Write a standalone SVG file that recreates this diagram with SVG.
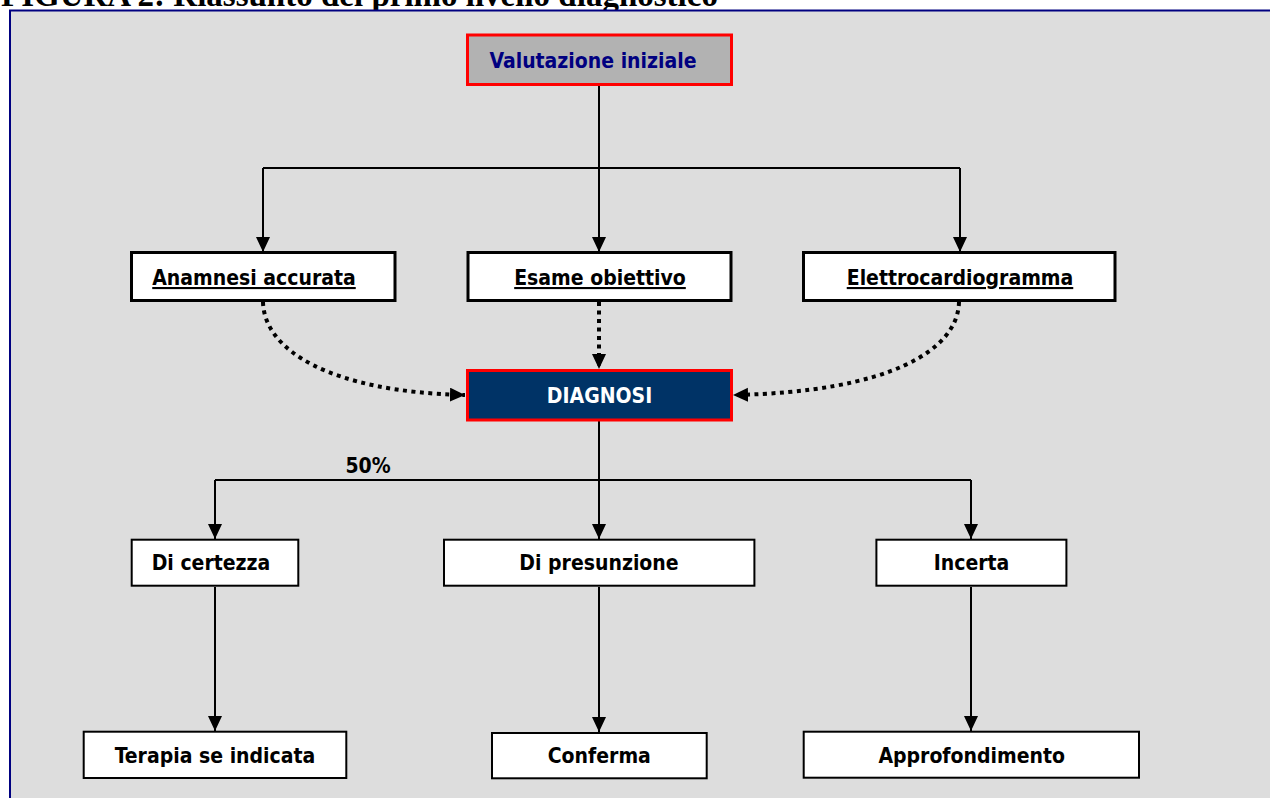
<svg xmlns="http://www.w3.org/2000/svg" width="1270" height="798" viewBox="0 0 1270 798">
<style>
.t{font-family:"DejaVu Sans Condensed","DejaVu Sans",sans-serif;font-stretch:condensed;font-weight:bold;font-size:21px;text-anchor:middle;fill:#000}
.u{text-decoration:underline}
.box3{fill:#fff;stroke:#000;stroke-width:3}
.box2{fill:#fff;stroke:#000;stroke-width:2}
.red{stroke:#ff0000;stroke-width:3}
.ln{fill:none;stroke:#000;stroke-width:2}
.dot{fill:none;stroke:#000;stroke-width:4;stroke-dasharray:4 4.5}
</style>
<defs>
<marker id="ah" markerUnits="userSpaceOnUse" markerWidth="16" markerHeight="16" refX="15" refY="7" orient="auto">
<path d="M0,0 L15,7 L0,14 z" fill="#000"/>
</marker>
</defs>
<rect x="0" y="0" width="1270" height="798" fill="#fff"/>
<text x="1" y="6" font-family="Liberation Serif, serif" font-weight="bold" font-size="33">FIGURA 2: Riassunto del primo livello diagnostico</text>
<rect x="10" y="10.5" width="1270" height="800" fill="#dddddd" stroke="#000080" stroke-width="2"/>

<g id="connectors">
<path class="ln" d="M599,85 V168 M263,168 H960"/>
<path class="ln" d="M263,168 V252" marker-end="url(#ah)"/>
<path class="ln" d="M599,168 V252" marker-end="url(#ah)"/>
<path class="ln" d="M960,168 V252" marker-end="url(#ah)"/>
<path class="dot" d="M263,302 C264,350 330,392 465,395" marker-end="url(#ah)"/>
<path class="dot" d="M599,302 V369" marker-end="url(#ah)"/>
<path class="dot" d="M959,302 C958,350 890,392 733,395" marker-end="url(#ah)"/>
<path class="ln" d="M599,421 V480 M215,480 H971"/>
<path class="ln" d="M215,480 V539" marker-end="url(#ah)"/>
<path class="ln" d="M599,480 V539" marker-end="url(#ah)"/>
<path class="ln" d="M971,480 V539" marker-end="url(#ah)"/>
<path class="ln" d="M215,587 V731" marker-end="url(#ah)"/>
<path class="ln" d="M599,587 V732" marker-end="url(#ah)"/>
<path class="ln" d="M971,587 V731" marker-end="url(#ah)"/>
<text class="t" x="368" y="473">50%</text>
</g>

<g id="valutazione">
<rect x="467.5" y="35" width="264" height="49.5" fill="#b2b2b2" class="red"/>
<text class="t" x="593" y="67.5" fill="#000080" style="fill:#000080">Valutazione iniziale</text>
</g>
<g id="anamnesi">
<rect class="box3" x="131.5" y="252.5" width="263.5" height="48"/>
<text class="t u" x="254" y="285">Anamnesi accurata</text>
</g>
<g id="esame">
<rect class="box3" x="468" y="252.5" width="263" height="48"/>
<text class="t u" x="600" y="285">Esame obiettivo</text>
</g>
<g id="ecg">
<rect class="box3" x="803.5" y="252.5" width="311.5" height="48"/>
<text class="t u" x="960" y="285">Elettrocardiogramma</text>
</g>
<g id="diagnosi">
<rect x="467.5" y="370.5" width="264" height="49.5" fill="#003366" class="red"/>
<text class="t" x="599.5" y="403" style="fill:#fff">DIAGNOSI</text>
</g>
<g id="certezza">
<rect class="box2" x="131.7" y="539.7" width="166.6" height="46"/>
<text class="t" x="211" y="570">Di certezza</text>
</g>
<g id="presunzione">
<rect class="box2" x="444" y="539.7" width="310.4" height="46"/>
<text class="t" x="599" y="570">Di presunzione</text>
</g>
<g id="incerta">
<rect class="box2" x="876.4" y="539.7" width="190" height="46"/>
<text class="t" x="971.5" y="570">Incerta</text>
</g>
<g id="terapia">
<rect class="box2" x="83.7" y="731.7" width="262.6" height="46.3"/>
<text class="t" x="215" y="762.5">Terapia se indicata</text>
</g>
<g id="conferma">
<rect class="box2" x="492" y="733" width="214.7" height="45.3"/>
<text class="t" x="599.3" y="763">Conferma</text>
</g>
<g id="approfondimento">
<rect class="box2" x="803.7" y="731.7" width="335.3" height="46"/>
<text class="t" x="971.7" y="762.5">Approfondimento</text>
</g>
</svg>
